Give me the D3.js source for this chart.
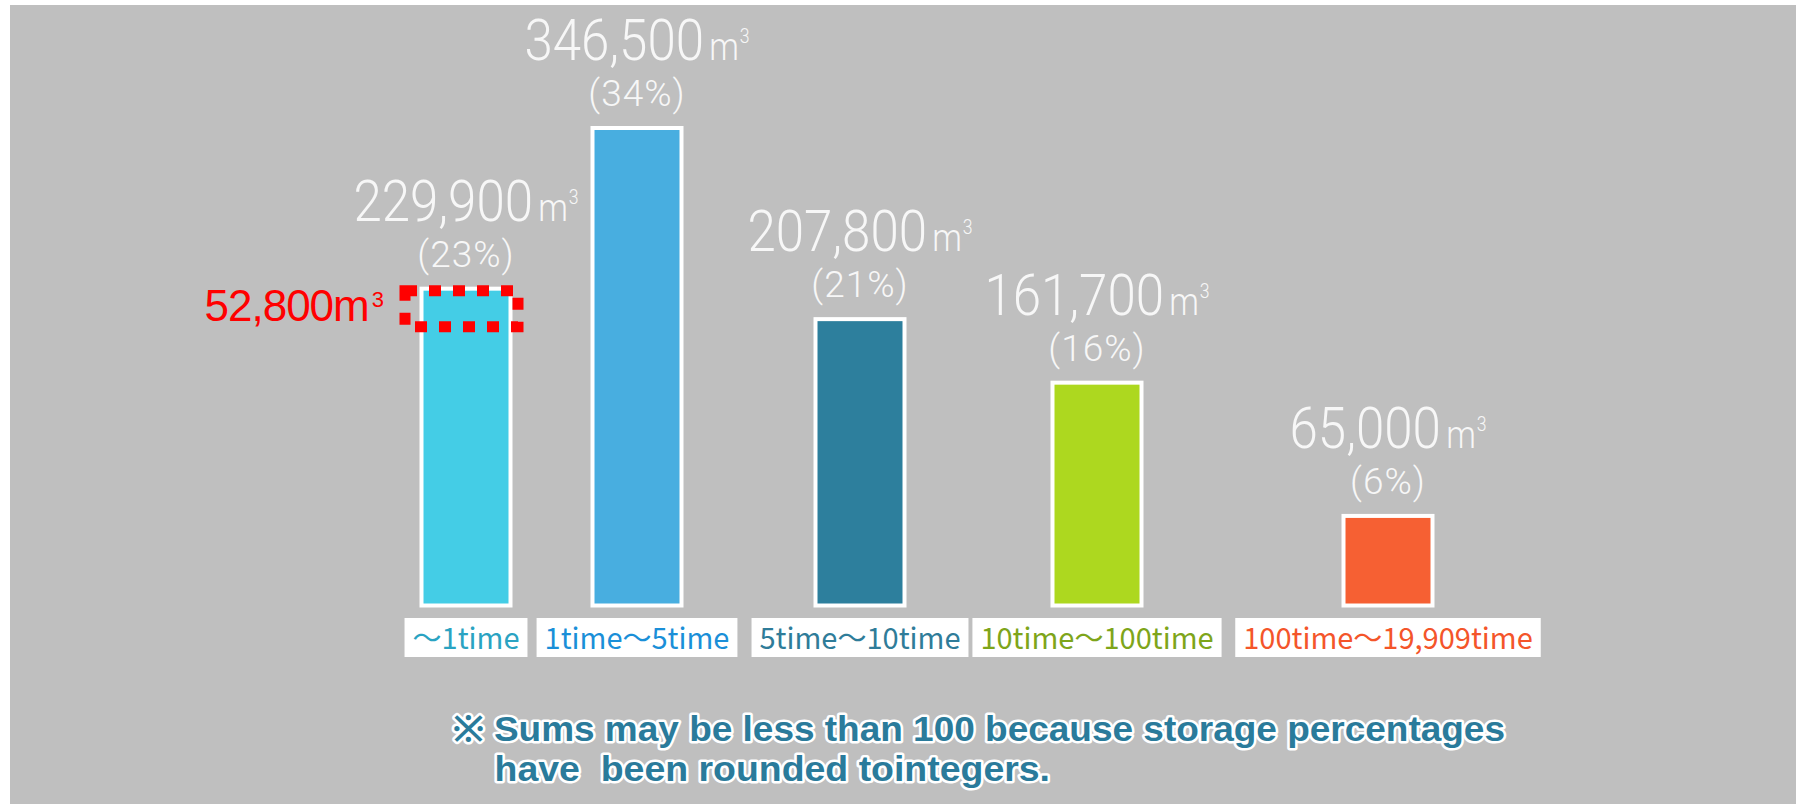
<!DOCTYPE html>
<html>
<head>
<meta charset="utf-8">
<script src="https://cdn.jsdelivr.net/npm/d3@7"></script>
<style>
  html, body { margin: 0; padding: 0; background: #ffffff; }
  svg { display: block; }
  text { white-space: pre; }
</style>
</head>
<body>
<svg id="chart" width="1799" height="804"></svg>
<script>
// ---------- data ----------
const categories = ["～1time", "1time～5time", "5time～10time", "10time～100time", "100time～19,909time"];
const volumes = [229900, 346500, 207800, 161700, 65000];
const percents = [23, 34, 21, 16, 6];
const highlightVolume = 52800;
const noteLines = [
  "※ Sums may be less than 100 because storage percentages",
  "    have  been rounded tointegers."
];

// ---------- style ----------
const barColors = ["#44cde6", "#48aee0", "#2d7f9d", "#add81f", "#f66033"];
const labelColors = ["#2aa3c2", "#1a8fd8", "#2f7c99", "#7ea51a", "#f4552a"];

const svg = d3.select("#chart");

// background panel
svg.append("rect").attr("x", 10).attr("y", 5).attr("width", 1786).attr("height", 799)
  .attr("fill", "#bfbfbf");

// scales
const x = d3.scaleOrdinal().domain(categories).range([466, 637, 860, 1097, 1388]);
const y = d3.scaleLinear().domain([0, d3.max(volumes)]).range([605.5, 128]);
const barW = 89;

const rows = categories.map((c, i) => ({ cat: c, v: volumes[i], p: percents[i], i }));

// bars
svg.append("g").selectAll("rect").data(rows).join("rect")
  .attr("x", d => x(d.cat) - barW / 2)
  .attr("y", d => y(d.v))
  .attr("width", barW)
  .attr("height", d => y(0) - y(d.v))
  .attr("fill", d => barColors[d.i])
  .attr("stroke", "#ffffff")
  .attr("stroke-width", 4);

// value labels (single text with tspans, horizontally condensed)
const valFont = "Roboto, 'Liberation Sans', sans-serif";
rows.forEach(d => {
  const t = svg.append("text")
    .attr("text-anchor", "middle")
    .attr("transform", `translate(${x(d.cat)},${y(d.v) - 68}) scale(0.88,1)`)
    .attr("font-family", valFont).attr("font-weight", 300)
    .attr("fill", "#f7f7f7");
  t.append("tspan").attr("font-size", 58).text(d3.format(",")(d.v));
  t.append("tspan").attr("font-size", 38).attr("dx", 6).text("m");
  t.append("tspan").attr("font-size", 20).attr("dx", 1).attr("dy", -17).text("3");

  svg.append("text")
    .attr("x", x(d.cat)).attr("y", y(d.v) - 22)
    .attr("text-anchor", "middle")
    .attr("font-family", valFont).attr("font-weight", 300)
    .attr("font-size", 37).attr("fill", "#f7f7f7")
    .attr("letter-spacing", 1)
    .text(`(${d.p}%)`);
});

// category label boxes
const catFont = "'Noto Sans CJK JP', 'Noto Sans', sans-serif";
rows.forEach(d => {
  const g = svg.append("g");
  const t = g.append("text")
    .attr("x", x(d.cat)).attr("y", 649)
    .attr("text-anchor", "middle")
    .attr("font-family", catFont).attr("font-size", 29)
    .attr("fill", labelColors[d.i])
    .text(d.cat);
  const tw = t.node().getComputedTextLength();
  g.insert("rect", "text")
    .attr("x", x(d.cat) - tw / 2 - 8).attr("y", 618)
    .attr("width", tw + 16).attr("height", 39)
    .attr("fill", "#ffffff");
});

// highlight annotation on first bar
const first = rows[0];
svg.append("rect")
  .attr("x", x(first.cat) - 61).attr("y", y(first.v) + 2)
  .attr("width", 113).attr("height", 36)
  .attr("fill", "none").attr("stroke", "#ff0000")
  .attr("stroke-width", 11).attr("stroke-dasharray", "12 12");

const ht = svg.append("text")
  .attr("x", 384).attr("y", 321)
  .attr("text-anchor", "end")
  .attr("font-family", "'Liberation Sans', Arial, sans-serif")
  .attr("fill", "#ff0000");
ht.append("tspan").attr("font-size", 44).attr("letter-spacing", -1)
  .text(d3.format(",")(highlightVolume) + "m");
ht.append("tspan").attr("font-size", 22).attr("dx", 3).attr("dy", -14).text("3");

// footnote
const noteG = svg.append("g");
noteLines.forEach((line, i) => {
  noteG.append("text")
    .attr("x", 453).attr("y", 741 + i * 40)
    .attr("font-family", "'Liberation Sans Narrow', 'Liberation Sans', sans-serif")
    .attr("font-weight", 700)
    .attr("font-size", 35)
    .attr("fill", "#2a7b9b")
    .attr("stroke", "#ffffff").attr("stroke-width", 5)
    .attr("stroke-linejoin", "round")
    .attr("paint-order", "stroke")
    .attr("textLength", i === 0 ? 1052 : 597)
    .attr("lengthAdjust", "spacingAndGlyphs")
    .text(line);
});
</script>
</body>
</html>
